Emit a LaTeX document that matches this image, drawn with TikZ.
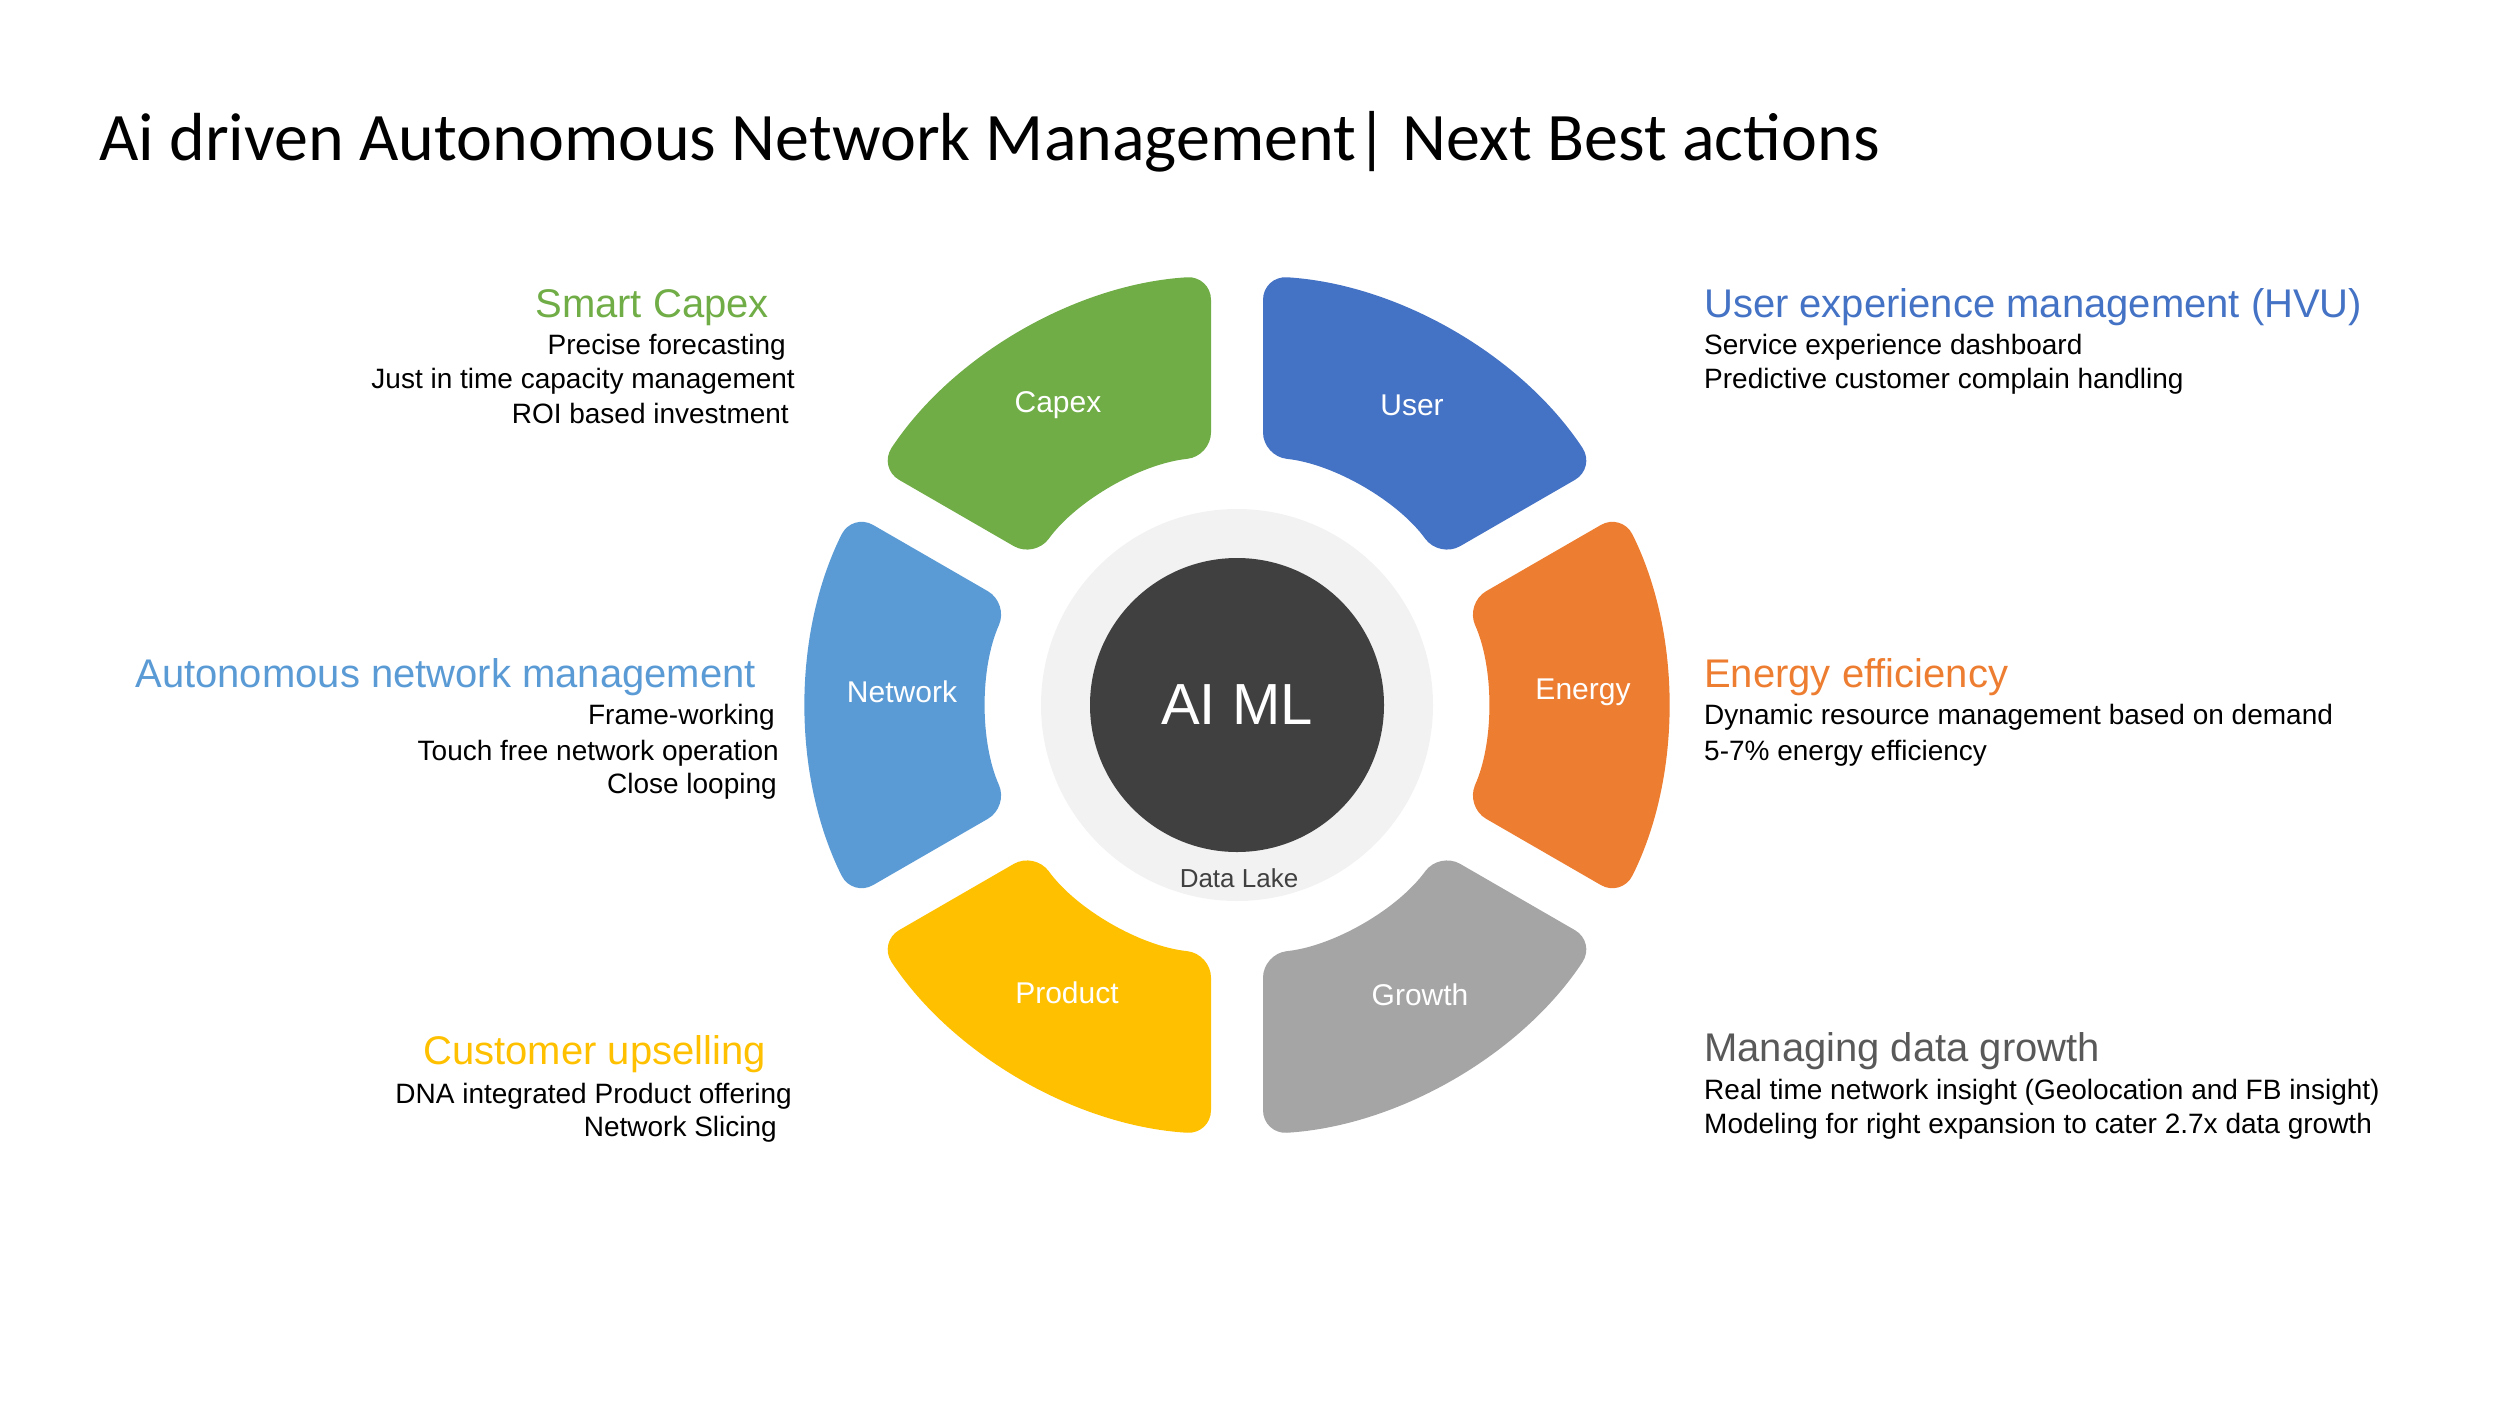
\documentclass[tikz,border=0pt]{standalone}
\usepackage{fontspec}
\setmainfont{Liberation Sans}
\newfontfamily\titlefont{Carlito}
\definecolor{cgreen}{HTML}{70AD47}
\definecolor{cblue}{HTML}{4472C4}
\definecolor{corange}{HTML}{ED7D31}
\definecolor{cgray}{HTML}{A5A5A5}
\definecolor{cyellow}{HTML}{FFC000}
\definecolor{clblue}{HTML}{5B9BD5}
\definecolor{cdark}{HTML}{404040}
\definecolor{cring}{HTML}{F2F2F2}
\definecolor{ctext}{HTML}{595959}
\newcommand\seg[3]{\fill[#3,rounded corners=24pt,shift={(1237,-705)}] ({#1+3.47}:430) arc[start angle={#1+3.47}, end angle={#2-3.47}, radius=430] -- ({#2-5.97}:250) arc[start angle={#2-5.97}, end angle={#1+5.97}, radius=250] -- cycle;}
\begin{document}
\begin{tikzpicture}[x=1pt,y=1pt,
  head/.style={inner sep=0pt,font=\fontsize{40}{44}\selectfont},
  body/.style={inner sep=0pt,font=\fontsize{28}{32}\selectfont},
  seglab/.style={text=white,font=\fontsize{30}{34}\selectfont}]
\useasboundingbox (0,0) rectangle (2500,-1406);
\node[anchor=base west,inner sep=0pt,font=\titlefont\fontsize{68}{72}\selectfont] (title) at (99,-160) {Ai driven Autonomous Network Management| Next Best actions};
\seg{-30}{30}{corange}
\seg{30}{90}{cblue}
\seg{90}{150}{cgreen}
\seg{150}{210}{clblue}
\seg{210}{270}{cyellow}
\seg{270}{330}{cgray}
\fill[cring] (1237,-705) circle[radius=196];
\node[circle,fill=cdark,minimum size=294pt,inner sep=0pt,text=white,font=\fontsize{58}{60}\selectfont] (ai) at (1237,-705) {AI ML};
\node[text=cdark,font=\fontsize{26}{30}\selectfont] (lake) at (1239,-878) {Data Lake};
\node[seglab] (capex) at (1058,-405) {Capex};
\node[seglab] (user) at (1412,-405) {User};
\node[seglab] (network) at (902,-692) {Network};
\node[seglab] (energy) at (1583,-692) {Energy};
\node[seglab] (product) at (1067,-993) {Product};
\node[seglab] (growth) at (1420,-995) {Growth};
% left
\node[head,text=cgreen,anchor=base east] (h1) at (769,-317) {Smart Capex};
\node[body,anchor=base east] (b11) at (786,-354) {Precise forecasting};
\node[body,anchor=base east] (b12) at (795,-388) {Just in time capacity management};
\node[body,anchor=base east] (b13) at (789,-423) {ROI based investment};
\node[head,text=clblue,anchor=base east] (h2) at (756,-687) {Autonomous network management};
\node[body,anchor=base east] (b21) at (775,-724) {Frame-working};
\node[body,anchor=base east] (b22) at (779,-760) {Touch free network operation};
\node[body,anchor=base east] (b23) at (777,-793) {Close looping};
\node[head,text=cyellow,anchor=base east] (h3) at (766,-1064) {Customer upselling};
\node[body,anchor=base east] (b31) at (792,-1103) {DNA integrated Product offering};
\node[body,anchor=base east] (b32) at (777,-1136) {Network Slicing};
% right
\node[head,text=cblue,anchor=base west] (h4) at (1704,-317) {User experience management (HVU)};
\node[body,anchor=base west] (b41) at (1704,-354) {Service experience dashboard};
\node[body,anchor=base west] (b42) at (1704,-388) {Predictive customer complain handling};
\node[head,text=corange,anchor=base west] (h5) at (1704,-687) {Energy efficiency};
\node[body,anchor=base west] (b51) at (1704,-724) {Dynamic resource management based on demand};
\node[body,anchor=base west] (b52) at (1704,-760) {5-7\% energy efficiency};
\node[head,text=ctext,anchor=base west] (h6) at (1704,-1061) {Managing data growth};
\node[body,anchor=base west] (b61) at (1704,-1099) {Real time network insight (Geolocation and FB insight)};
\node[body,anchor=base west] (b62) at (1704,-1133) {Modeling for right expansion to cater 2.7x data growth};
\end{tikzpicture}
\end{document}
